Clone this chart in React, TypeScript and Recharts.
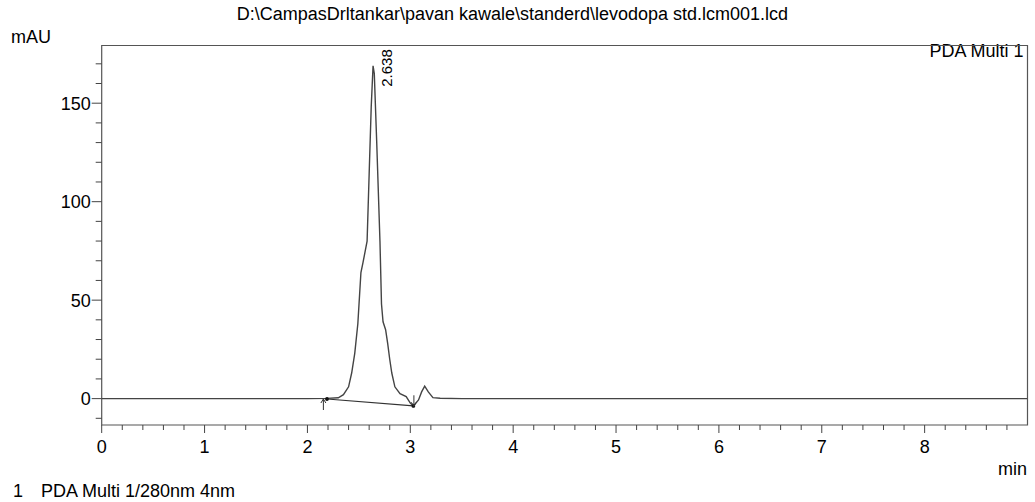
import React from 'react';
import { LineChart, Line, XAxis, YAxis, ReferenceArea, ReferenceDot } from 'recharts';

// Chromatogram trace (retention time in min, absorbance in mAU)
const timeMin = [0, 1.0, 2.0, 2.19, 2.30, 2.35, 2.40, 2.43, 2.46, 2.49, 2.52, 2.54, 2.58, 2.60, 2.62, 2.638, 2.65, 2.673, 2.705, 2.72, 2.735, 2.76, 2.78, 2.80, 2.82, 2.85, 2.90, 2.96, 3.0, 3.03, 3.08, 3.11, 3.14, 3.175, 3.22, 3.29, 3.5, 4.0, 5.0, 6.0, 7.0, 8.0, 9.0];
const absorbanceMAU = [0, 0, 0, 0.1, 0.4, 2, 6, 13, 23, 38, 64, 69, 80, 114, 148, 169, 165, 131, 80, 48, 39, 35, 28, 20, 13, 6, 2.5, 1, -2.3, -3.7, -0.7, 3.4, 6.3, 3.4, 0.5, 0.2, 0, 0, 0, 0, 0, 0, 0];

// Integration baseline
const baselineTime = [2.19, 3.03];
const baselineMAU = [-0.2, -3.7];

// Peak marker
const peakTime = 2.638;
const peakMAU = 169;
const peakLabel = '2.638';

// Integration start / end markers
const startMarker = { t: 2.155, v: -0.2 };
const endMarker = { t: 3.035, v: -3.9 };

const xTicks = [0, 0.2, 0.4, 0.6, 0.8, 1, 1.2, 1.4, 1.6, 1.8, 2, 2.2, 2.4, 2.6, 2.8, 3, 3.2, 3.4, 3.6, 3.8, 4, 4.2, 4.4, 4.6, 4.8, 5, 5.2, 5.4, 5.6, 5.8, 6, 6.2, 6.4, 6.6, 6.8, 7, 7.2, 7.4, 7.6, 7.8, 8, 8.2, 8.4, 8.6, 8.8];
const xLabels = [0, 1, 2, 3, 4, 5, 6, 7, 8];
const yTicks = [-10, 0, 10, 20, 30, 40, 50, 60, 70, 80, 90, 100, 110, 120, 130, 140, 150, 160, 170];
const yLabels = [0, 50, 100, 150];

const xDomain = [0, 9];
const yDomain = [-13.4, 179.3];

const titleText = 'D:\\CampasDrltankar\\pavan kawale\\standerd\\levodopa std.lcm001.lcd';
const yUnit = 'mAU';
const xUnit = 'min';
const channelName = 'PDA Multi 1';
const legendIndex = '1';
const legendText = 'PDA Multi 1/280nm 4nm';

const traceData = timeMin.map((t, i) => ({ t, v: absorbanceMAU[i] }));
const baselineData = baselineTime.map((t, i) => ({ t, v: baselineMAU[i] }));

const FONT = '"Liberation Sans", Arial, sans-serif';
const INK = '#000';
const LINE = '#444';

const XTick = (props: any) => {
  const { x, y, payload } = props;
  const val = Math.round(payload.value * 10) / 10;
  const major = xLabels.includes(val);
  return (
    <g>
      <line x1={x} y1={y} x2={x} y2={y + (major ? 8 : 5)} stroke={LINE} strokeWidth={1} />
      {major && (
        <text x={x} y={y + 28} textAnchor="middle" fontSize={18} fontFamily={FONT} fill={INK}>
          {val}
        </text>
      )}
    </g>
  );
};

const YTick = (props: any) => {
  const { x, y, payload } = props;
  const val = payload.value;
  const major = yLabels.includes(val);
  return (
    <g>
      <line x1={x - (major ? 10 : 6)} y1={y} x2={x} y2={y} stroke={LINE} strokeWidth={1} />
      {major && (
        <text x={x - 11} y={y + 6.4} textAnchor="end" fontSize={18} fontFamily={FONT} fill={INK}>
          {val}
        </text>
      )}
    </g>
  );
};

const PeakLabel = (props: any) => {
  const { cx, cy } = props;
  const x = cx + 19;
  const y = cy + 21;
  return (
    <text x={x} y={y} transform={`rotate(-90 ${x} ${y})`} fontSize={15} fontFamily={FONT} fill={INK}>
      {peakLabel}
    </text>
  );
};

const UpArrow = (props: any) => {
  const { cx, cy } = props;
  return (
    <g stroke="#333" strokeWidth={1} fill="none">
      <line x1={cx} y1={cy} x2={cx} y2={cy + 11} />
      <polyline points={`${cx - 2.5},${cy + 4} ${cx},${cy} ${cx + 2.5},${cy + 4}`} />
    </g>
  );
};

const DownArrow = (props: any) => {
  const { cx, cy } = props;
  return (
    <g stroke="#333" strokeWidth={1} fill="none">
      <line x1={cx} y1={cy - 11} x2={cx} y2={cy} />
      <polyline points={`${cx - 2.5},${cy - 4} ${cx},${cy} ${cx + 2.5},${cy - 4}`} />
    </g>
  );
};

export default function App() {
  return (
    <div style={{ position: 'fixed', left: 0, top: 0, width: 1035, height: 502, background: '#fff' }}>
      <svg width={1035} height={502} style={{ position: 'absolute', left: 0, top: 0 }}>
        <text x={512.5} y={20} textAnchor="middle" fontSize={18} fontFamily={FONT} fill={INK}>{titleText}</text>
        <text x={11} y={42.5} fontSize={18} fontFamily={FONT} fill={INK}>{yUnit}</text>
        <text x={1023.5} y={57} textAnchor="end" fontSize={18} fontFamily={FONT} fill={INK}>{channelName}</text>
        <text x={1027} y={475} textAnchor="end" fontSize={18} fontFamily={FONT} fill={INK}>{xUnit}</text>
        <text x={13} y={496.5} fontSize={18} fontFamily={FONT} fill={INK}>{legendIndex}</text>
        <text x={41} y={496.5} fontSize={18} fontFamily={FONT} fill={INK}>{legendText}</text>
      </svg>
      <div style={{ position: 'absolute', left: 0, top: 0 }}>
        <LineChart
          width={1035}
          height={502}
          data={traceData}
          margin={{ top: 45.5, right: 7.5, bottom: 0, left: 0 }}
        >
          <XAxis
            dataKey="t"
            type="number"
            domain={xDomain}
            ticks={xTicks}
            interval={0}
            allowDataOverflow
            axisLine={false}
            tickLine={false}
            tickSize={0}
            tickMargin={0}
            height={77}
            tick={<XTick />}
          />
          <YAxis
            type="number"
            domain={yDomain}
            ticks={yTicks}
            interval={0}
            allowDataOverflow
            axisLine={false}
            tickLine={false}
            tickSize={0}
            tickMargin={0}
            width={101.7}
            tick={<YTick />}
          />
          <ReferenceArea
            x1={xDomain[0]}
            x2={xDomain[1]}
            y1={yDomain[0]}
            y2={yDomain[1]}
            fill="none"
            fillOpacity={0}
            stroke="#555"
            strokeWidth={1.2}
            ifOverflow="visible"
          />
          <Line
            data={traceData}
            dataKey="v"
            type="linear"
            stroke={LINE}
            strokeWidth={1.4}
            dot={false}
            isAnimationActive={false}
          />
          <Line
            data={baselineData}
            dataKey="v"
            type="linear"
            stroke="#333"
            strokeWidth={1.2}
            dot={{ r: 1.3, fill: '#111', stroke: '#111' }}
            isAnimationActive={false}
          />
          <ReferenceDot x={peakTime} y={peakMAU} r={0} shape={<PeakLabel />} ifOverflow="visible" />
          <ReferenceDot x={startMarker.t} y={startMarker.v} r={0} shape={<UpArrow />} ifOverflow="visible" />
          <ReferenceDot x={endMarker.t} y={endMarker.v} r={0} shape={<DownArrow />} ifOverflow="visible" />
        </LineChart>
      </div>
    </div>
  );
}
